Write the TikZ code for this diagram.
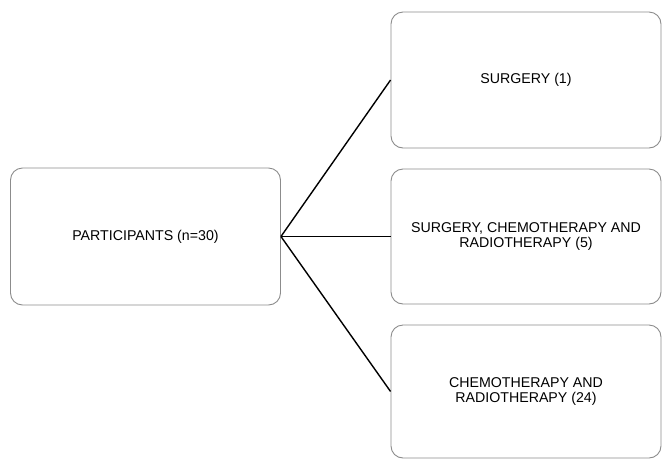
\documentclass[tikz,border=0pt]{standalone}
\usepackage{fontspec}
\setmainfont{Liberation Sans}
\usetikzlibrary{positioning}
\definecolor{boxgray}{HTML}{8C8C8C}

\begin{document}
\begin{tikzpicture}[
    x=1pt, y=-1pt,
    box/.style={draw=boxgray, line width=0.9pt, fill=white, rounded corners=12pt, align=center,
      minimum width=270pt, inner sep=0pt, font=\fontsize{14.2}{14.4}\selectfont},
    link/.style={line width=1.4pt, black}
  ]
  \useasboundingbox (0,0) rectangle (662,459);

  % Left: all participants
  \node[box, minimum height=137pt] (part) at (145.5, 236.5) {PARTICIPANTS (n=30)};

  % Right: treatment groups
  \node[box, minimum height=136pt] (surg) at (526, 80) {SURGERY (1)};
  \node[box, minimum height=135pt] (scr) at (526, 236.5) {SURGERY, CHEMOTHERAPY AND\\RADIOTHERAPY (5)};
  \node[box, minimum height=133pt] (cr) at (526, 391.5) {CHEMOTHERAPY AND\\RADIOTHERAPY (24)};

  % Connectors
  \draw[link] (part.east) -- (surg.west);
  \draw[link] (part.east) -- (scr.west);
  \draw[link] (part.east) -- (cr.west);
\end{tikzpicture}
\end{document}
